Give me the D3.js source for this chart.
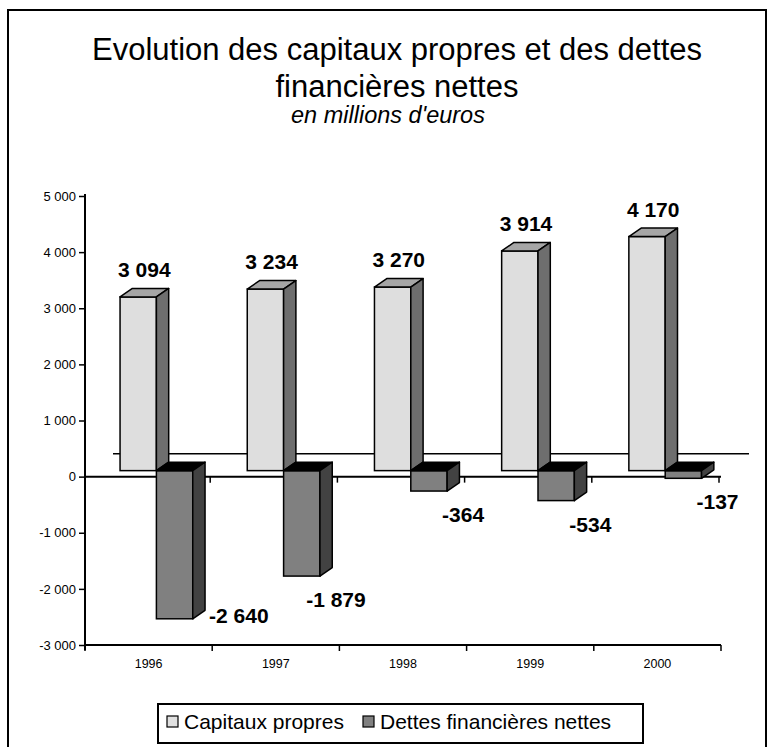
<!DOCTYPE html>
<html><head><meta charset="utf-8">
<script src="https://cdn.jsdelivr.net/npm/d3@7/dist/d3.min.js"></script>
<style>body{margin:0;background:#fff}svg{display:block;font-family:"Liberation Sans",Arial,sans-serif}</style>
</head><body><svg id="c" width="775" height="747"></svg>
<script>
const years = ["1996","1997","1998","1999","2000"];
const capitaux = [3094, 3234, 3270, 3914, 4170];
const dettes = [-2640, -1879, -364, -534, -137];
const seriesNames = ["Capitaux propres", "Dettes financières nettes"];
const yTicks = [-3000,-2000,-1000,0,1000,2000,3000,4000,5000];
const titleLines = ["Evolution des capitaux propres et des dettes", "financières nettes"];
const subtitle = "en millions d'euros";

const svg = d3.select("#c");
const fmt = v => { const s = d3.format(",")(Math.abs(v)).replace(/,/g," "); return (v<0?"-":"") + s; };

// outer frame
svg.append("rect").attr("x",8).attr("y",10).attr("width",758).attr("height",745)
  .attr("fill","none").attr("stroke","#000").attr("stroke-width",2);

// titles
svg.append("text").attr("x",397).attr("y",60).attr("text-anchor","middle").attr("font-size",31).text(titleLines[0]);
svg.append("text").attr("x",397).attr("y",97).attr("text-anchor","middle").attr("font-size",31).text(titleLines[1]);
svg.append("text").attr("x",388).attr("y",123).attr("text-anchor","middle").attr("font-size",23.5).attr("font-style","italic").text(subtitle);

// scales
const y = d3.scaleLinear().domain([-3000,5000]).range([645,196]);
const x = d3.scaleBand().domain(years).range([85,721]);
const wallDX = 28, wallDY = -23;         // full depth of the plot
const fDX = 7.8, fDY = -6;               // front face of bars
const dDX = 12.3, dDY = -8.5;            // bar depth
const bw = x.bandwidth()/3.5;

// back zero line
svg.append("line").attr("x1",85+wallDX).attr("x2",721+wallDX).attr("y1",y(0)+wallDY).attr("y2",y(0)+wallDY)
  .attr("stroke","#000").attr("stroke-width",1.5);

// y axis
const yAxis = d3.axisLeft(y).tickValues(yTicks).tickSize(6).tickPadding(3).tickFormat(fmt);
const gy = svg.append("g").attr("transform","translate(85,0)").call(yAxis);
gy.select(".domain").remove();
gy.append("line").attr("x1",0).attr("x2",0).attr("y1",y(5000)-2).attr("y2",y(-3000)+5).attr("stroke","#000").attr("stroke-width",2);
gy.selectAll(".tick line").attr("stroke","#000").attr("stroke-width",1.5);
gy.selectAll(".tick text").attr("font-size",13).attr("fill","#000").attr("font-family","Liberation Sans, Arial");

// bottom category axis
const xAxis = d3.axisBottom(x).tickSize(0).tickPadding(14);
const gx = svg.append("g").attr("transform",`translate(0,${y(-3000)})`).call(xAxis);
gx.select(".domain").remove();
gx.selectAll(".tick text").attr("font-size",12.5).attr("fill","#000").attr("font-family","Liberation Sans, Arial");
svg.append("line").attr("x1",85).attr("x2",721).attr("y1",y(-3000)).attr("y2",y(-3000)).attr("stroke","#000").attr("stroke-width",2);
const bounds = [85].concat(years.map(d=>x(d)+x.bandwidth()));
svg.selectAll(".bt").data(bounds).join("line").attr("x1",d=>d).attr("x2",d=>d)
  .attr("y1",y(-3000)).attr("y2",y(-3000)+6).attr("stroke","#000").attr("stroke-width",1.5);

// front zero line with ticks
svg.append("line").attr("x1",85).attr("x2",721).attr("y1",y(0)).attr("y2",y(0)).attr("stroke","#000").attr("stroke-width",2);
svg.selectAll(".zt").data(bounds.slice(1)).join("line").attr("x1",d=>d-2).attr("x2",d=>d-2)
  .attr("y1",y(0)).attr("y2",y(0)+6).attr("stroke","#000").attr("stroke-width",1.5);

// 3D bars
const styles = [
  {front:"#dedede", top:"#a6a6a6", side:"#6e6e6e"},
  {front:"#808080", top:"#000000", side:"#424242"}
];
function bar(g, left, v, st){
  const yt = Math.min(y(v), y(0)) + fDY, yb = Math.max(y(v), y(0)) + fDY;
  const r = left + bw;
  g.append("rect").attr("x",left).attr("y",yt).attr("width",bw).attr("height",yb-yt)
    .attr("fill",st.front).attr("stroke","#000").attr("stroke-width",1.5);
  g.append("path").attr("d",`M${left},${yt}L${left+dDX},${yt+dDY}L${r+dDX},${yt+dDY}L${r},${yt}Z`)
    .attr("fill",st.top).attr("stroke","#000").attr("stroke-width",1.5).attr("stroke-linejoin","round");
  g.append("path").attr("d",`M${r},${yt}L${r+dDX},${yt+dDY}L${r+dDX},${yb+dDY}L${r},${yb}Z`)
    .attr("fill",st.side).attr("stroke","#000").attr("stroke-width",1.5).attr("stroke-linejoin","round");
}
const gb = svg.append("g");
years.forEach((yr,i)=>{
  const l0 = x(yr) + fDX + bw*0.75;
  bar(gb, l0, capitaux[i], styles[0]);
  bar(gb, l0+bw, dettes[i], styles[1]);
});

// labels
const gl = svg.append("g").attr("font-weight","bold").attr("font-size",21).attr("fill","#000");
years.forEach((yr,i)=>{
  const l0 = x(yr) + fDX + bw*0.75;
  gl.append("text").attr("x",l0+bw/2+dDX/2).attr("y",y(capitaux[i])+fDY-20)
    .attr("text-anchor","middle").text(fmt(capitaux[i]));
  const l1 = l0 + bw;
  const bottom = y(dettes[i]) + fDY;
  if (bottom + 30 > y(-3000) - 15) {
    gl.append("text").attr("x",l1+bw+dDX+4).attr("y",bottom+4).attr("text-anchor","start").text(fmt(dettes[i]));
  } else {
    gl.append("text").attr("x",l1+bw/2+dDX/2+28).attr("y",bottom+31).attr("text-anchor","middle").text(fmt(dettes[i]));
  }
});

// legend
const lg = svg.append("g");
lg.append("rect").attr("x",158).attr("y",704).attr("width",485).attr("height",39)
  .attr("fill","#fff").attr("stroke","#000").attr("stroke-width",2);
const legX = [167, 363];
seriesNames.forEach((n,i)=>{
  lg.append("rect").attr("x",legX[i]).attr("y",716).attr("width",11).attr("height",11)
    .attr("fill",i?"#808080":"#e0e0e0").attr("stroke","#000").attr("stroke-width",1.2);
  lg.append("text").attr("x",legX[i]+17).attr("y",729).attr("font-size",21).text(n);
});
</script></body></html>
